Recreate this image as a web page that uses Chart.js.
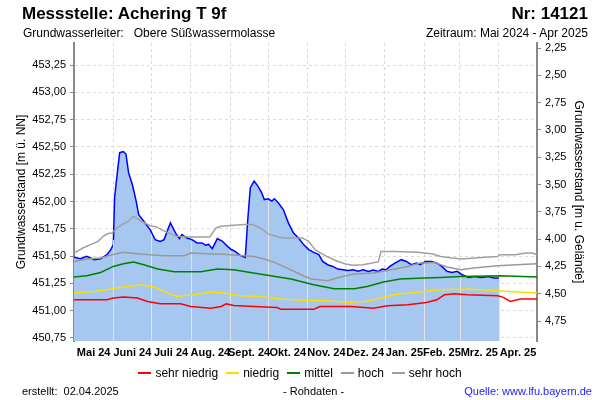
<!DOCTYPE html>
<html lang="de">
<head>
<meta charset="utf-8">
<script src="https://cdn.jsdelivr.net/npm/chart.js@4.4.1/dist/chart.umd.min.js"></script>
<style>
  body { margin: 0; background: #fff; }
  #wrap { position: relative; width: 600px; height: 400px; font-family: "Liberation Sans", Arial, sans-serif; color: #000; }
  #chart { position: absolute; left: 0; top: 0; }
  .t { position: absolute; white-space: nowrap; line-height: 1; }
  #legende { position: absolute; left: 0; width: 600px; top: 367px; display: flex; justify-content: center; font-size: 12px; line-height: 1; }
  #legende span.i { display: flex; align-items: center; margin: 0 4px; }
  #legende span.s { display: inline-block; width: 13px; height: 2px; margin-right: 4px; }
</style>
</head>
<body>
<div id="wrap">
  <canvas id="chart" width="600" height="400"></canvas>
  <div class="t" style="left:22px;top:5px;font-size:17px;font-weight:bold">Messstelle: Achering T 9f</div>
  <div class="t" style="right:12px;top:5px;font-size:17px;font-weight:bold">Nr: 14121</div>
  <div class="t" style="left:23px;top:27px;font-size:12px">Grundwasserleiter:&nbsp;&nbsp; Obere Süßwassermolasse</div>
  <div class="t" style="right:12px;top:27px;font-size:12px">Zeitraum: Mai 2024 - Apr 2025</div>
  <div id="legende"></div>
  <div class="t" style="left:22px;top:386px;font-size:11px">erstellt:&nbsp; 02.04.2025</div>
  <div class="t" style="left:283px;top:386px;font-size:11px">- Rohdaten -</div>
  <div class="t" style="right:8px;top:386px;font-size:11px;color:#2020ff">Quelle: www.lfu.bayern.de</div>
</div>
<script>
// Tage seit 01.05.2024
const monate = ["Mai 24", "Juni 24", "Juli 24", "Aug. 24", "Sept. 24", "Okt. 24", "Nov. 24", "Dez. 24", "Jan. 25", "Feb. 25", "Mrz. 25", "Apr. 25"];
const monatsGrenzen = [0, 31, 61, 92, 123, 153, 184, 214, 245, 276, 304, 335, 365];
const monatsMitten = [15.5, 46, 76.5, 107.5, 138, 168.5, 199, 229.5, 260.5, 290, 319.5, 350];

// Geländehöhe (Umrechnung m ü. NN <-> m u. Gelände)
const gelaende = 455.655;
const yMin = 450.722, yMax = 453.452;

// Messwerte
const pegelTag = [0, 5, 10, 16, 21, 26, 29, 31, 32, 34, 36, 39, 41, 43, 46, 49, 51, 55, 60, 64, 68, 71, 74, 76, 80, 83, 85, 89, 93, 97, 101, 104, 106, 109, 113, 117, 121, 124, 127, 131, 135, 137, 139, 142, 145, 148, 150, 153, 156, 158, 161, 165, 169, 173, 177, 181, 185, 189, 193, 196, 200, 204, 208, 212, 216, 220, 224, 228, 232, 236, 240, 243, 246, 249, 253, 258, 262, 266, 270, 273, 277, 282, 286, 290, 294, 298, 302, 306, 311, 316, 321, 327, 331, 335];
const pegelWert = [451.49, 451.476, 451.497, 451.467, 451.476, 451.513, 451.559, 451.605, 452.034, 452.248, 452.447, 452.457, 452.432, 452.264, 452.156, 452.003, 451.88, 451.819, 451.743, 451.651, 451.635, 451.651, 451.743, 451.804, 451.712, 451.66, 451.697, 451.666, 451.651, 451.62, 451.62, 451.598, 451.61, 451.568, 451.66, 451.635, 451.589, 451.56, 451.543, 451.506, 451.488, 451.835, 452.126, 452.187, 452.141, 452.08, 452.018, 452.025, 452.003, 452.025, 451.988, 451.926, 451.804, 451.712, 451.666, 451.605, 451.559, 451.534, 451.513, 451.451, 451.421, 451.405, 451.381, 451.375, 451.369, 451.375, 451.362, 451.375, 451.36, 451.372, 451.36, 451.381, 451.375, 451.405, 451.436, 451.467, 451.451, 451.421, 451.436, 451.421, 451.451, 451.451, 451.436, 451.405, 451.36, 451.35, 451.36, 451.329, 451.304, 451.313, 451.304, 451.313, 451.299, 451.3];

// Kennlinien
const sehrHochTag = [0, 7, 13, 19, 23, 27, 30, 34, 38, 43, 47, 49, 53, 60, 65, 70, 76, 81, 91, 107, 112, 116, 134, 141, 148, 153, 161, 166, 180, 185, 190, 198, 206, 214, 220, 228, 235, 240, 242, 253, 271, 283, 289, 298, 306, 316, 327, 334, 336, 348, 356, 361, 365];
const sehrHochWert = [451.528, 451.574, 451.605, 451.635, 451.681, 451.706, 451.712, 451.758, 451.789, 451.819, 451.865, 451.85, 451.819, 451.779, 451.767, 451.736, 451.706, 451.681, 451.675, 451.675, 451.758, 451.773, 451.789, 451.789, 451.749, 451.703, 451.675, 451.666, 451.666, 451.635, 451.559, 451.504, 451.46, 451.427, 451.415, 451.421, 451.436, 451.449, 451.543, 451.543, 451.534, 451.519, 451.497, 451.482, 451.473, 451.482, 451.492, 451.497, 451.513, 451.513, 451.528, 451.528, 451.513];

const hochTag = [0, 10, 21, 30, 39, 50, 60, 71, 87, 92, 105, 118, 134, 142, 150, 158, 168, 179, 187, 200, 210, 221, 236, 250, 263, 273, 284, 294, 305, 315, 334, 349, 365];
const hochWert = [451.451, 451.473, 451.482, 451.513, 451.534, 451.522, 451.513, 451.504, 451.504, 451.528, 451.522, 451.516, 451.504, 451.497, 451.473, 451.442, 451.39, 451.329, 451.29, 451.274, 451.308, 451.335, 451.345, 451.375, 451.405, 451.436, 451.442, 451.4, 451.375, 451.39, 451.412, 451.421, 451.43];

const mittelTag = [0, 10, 21, 31, 39, 47, 55, 66, 79, 100, 113, 126, 139, 155, 171, 189, 205, 221, 231, 244, 257, 276, 289, 305, 336, 365];
const mittelWert = [451.308, 451.32, 451.35, 451.405, 451.43, 451.446, 451.421, 451.381, 451.357, 451.357, 451.381, 451.375, 451.35, 451.32, 451.29, 451.237, 451.2, 451.2, 451.222, 451.262, 451.29, 451.299, 451.304, 451.313, 451.32, 451.308];

const niedrigTag = [0, 16, 29, 39, 53, 63, 74, 81, 95, 108, 118, 131, 147, 163, 184, 200, 215, 229, 239, 252, 268, 289, 310, 331, 342, 365];
const niedrigWert = [451.161, 451.176, 451.198, 451.216, 451.237, 451.216, 451.161, 451.13, 451.145, 451.17, 451.161, 451.136, 451.13, 451.106, 451.093, 451.09, 451.078, 451.084, 451.106, 451.145, 451.166, 451.191, 451.198, 451.185, 451.176, 451.161];

const sehrNiedrigTag = [0, 26, 31, 39, 50, 58, 68, 84, 92, 108, 116, 120, 126, 142, 160, 163, 189, 194, 218, 229, 236, 247, 263, 278, 286, 292, 300, 310, 334, 338, 344, 352, 365];
const sehrNiedrigWert = [451.099, 451.099, 451.115, 451.124, 451.115, 451.084, 451.063, 451.063, 451.038, 451.023, 451.038, 451.063, 451.047, 451.038, 451.029, 451.014, 451.014, 451.038, 451.038, 451.029, 451.023, 451.044, 451.053, 451.074, 451.099, 451.145, 451.154, 451.145, 451.136, 451.124, 451.084, 451.106, 451.106];

const punkte = (tage, werte) => tage.map((t, i) => ({ x: t, y: werte[i] }));

const kennlinien = [
  { label: "sehr niedrig", tage: sehrNiedrigTag, werte: sehrNiedrigWert, farbe: "#ff0000" },
  { label: "niedrig", tage: niedrigTag, werte: niedrigWert, farbe: "#ffdd00" },
  { label: "mittel", tage: mittelTag, werte: mittelWert, farbe: "#008000" },
  { label: "hoch", tage: hochTag, werte: hochWert, farbe: "#999999" },
  { label: "sehr hoch", tage: sehrHochTag, werte: sehrHochWert, farbe: "#a0a0a0" }
];

// weisse Monatslinien in der Flaeche
const trennlinien = {
  id: "trennlinien",
  afterDatasetDraw(chart, args) {
    if (args.index !== 0) return;
    const pts = args.meta.data;
    const xs = chart.scales.x;
    const ctx = chart.ctx;
    ctx.save();
    ctx.strokeStyle = "#e2e2e2";
    ctx.lineWidth = 1;
    monatsGrenzen.forEach(tag => {
      if (tag <= pegelTag[0] || tag > pegelTag[pegelTag.length - 1]) return;
      const px = Math.round(xs.getPixelForValue(tag)) + 0.5;
      let y = pts[pts.length - 1].y;
      for (let i = 1; i < pts.length; i++) {
        if (pts[i].x >= px) {
          const a = pts[i - 1], b = pts[i];
          y = a.y + (px - a.x) / ((b.x - a.x) || 1) * (b.y - a.y);
          break;
        }
      }
      ctx.beginPath();
      ctx.moveTo(px, chart.chartArea.bottom);
      ctx.lineTo(px, y + 2);
      ctx.stroke();
    });
    ctx.restore();
  }
};

const datasets = [{
  label: "Grundwasserstand",
  data: punkte(pegelTag, pegelWert),
  borderColor: "#0000ff",
  backgroundColor: "#a6c8f0",
  borderWidth: 1.5,
  fill: "start",
  pointRadius: 0,
  order: 1
}];
kennlinien.forEach(k => {
  datasets.push({
    label: k.label,
    data: punkte(k.tage, k.werte),
    borderColor: k.farbe,
    borderWidth: 1.5,
    fill: false,
    pointRadius: 0,
    order: 0
  });
});

// Legende
const leg = document.getElementById("legende");
kennlinien.forEach(k => {
  const item = document.createElement("span");
  item.className = "i";
  item.innerHTML = '<span class="s" style="background:' + k.farbe + '"></span>' + k.label;
  leg.appendChild(item);
});

const achsenTage = monatsGrenzen.concat(monatsMitten).sort((a, b) => a - b);
const komma = v => v.toFixed(2).replace(".", ",");

new Chart(document.getElementById("chart"), {
  type: "line",
  data: { datasets: datasets },
  plugins: [trennlinien],
  options: {
    responsive: false,
    animation: false,
    devicePixelRatio: 1,
    layout: { padding: { top: 43, bottom: 35, left: 0, right: 0 } },
    plugins: { legend: { display: false }, tooltip: { enabled: false } },
    scales: {
      x: {
        type: "linear",
        min: 0,
        max: 365,
        afterBuildTicks: s => { s.ticks = achsenTage.map(v => ({ value: v })); },
        afterFit: s => { s.height = 24; },
        ticks: {
          autoSkip: false,
          maxRotation: 0,
          minRotation: 0,
          padding: 5,
          color: "#000",
          font: { family: "Liberation Sans", size: 11, weight: "bold" },
          callback: v => {
            const i = monatsMitten.indexOf(v);
            return i >= 0 ? monate[i] : "";
          }
        },
        grid: {
          drawTicks: false,
          color: c => (c.tick && monatsGrenzen.includes(c.tick.value)) ? "#d8d8d8" : "rgba(0,0,0,0)"
        },
        border: { display: false, dash: [3, 3] }
      },
      y: {
        position: "left",
        min: yMin,
        max: yMax,
        afterFit: s => { s.width = 74; },
        ticks: {
          stepSize: 0.25,
          includeBounds: false,
          padding: 4,
          color: "#000",
          font: { family: "Liberation Sans", size: 11 },
          callback: v => komma(v)
        },
        grid: { color: "#dcdcdc", tickColor: "#888", tickLength: 4, tickBorderDash: [] },
        border: { color: "#888", width: 2, dash: [3, 3] },
        title: {
          display: true,
          text: "Grundwasserstand [m ü. NN]",
          color: "#000",
          font: { family: "Liberation Sans", size: 12 },
          padding: { top: 14, bottom: 0 }
        }
      },
      y2: {
        position: "right",
        reverse: true,
        min: gelaende - yMax,
        max: gelaende - yMin,
        afterFit: s => { s.width = 63; },
        ticks: {
          stepSize: 0.25,
          includeBounds: false,
          padding: 4,
          color: "#000",
          font: { family: "Liberation Sans", size: 11 },
          callback: v => komma(v)
        },
        grid: { drawOnChartArea: false, tickColor: "#888", tickLength: 4 },
        border: { color: "#888", width: 2 },
        title: {
          display: true,
          text: "Grundwasserstand [m u. Gelände]",
          color: "#000",
          font: { family: "Liberation Sans", size: 12 },
          padding: { top: 14, bottom: 0 }
        }
      }
    }
  }
});
</script>
</body>
</html>
